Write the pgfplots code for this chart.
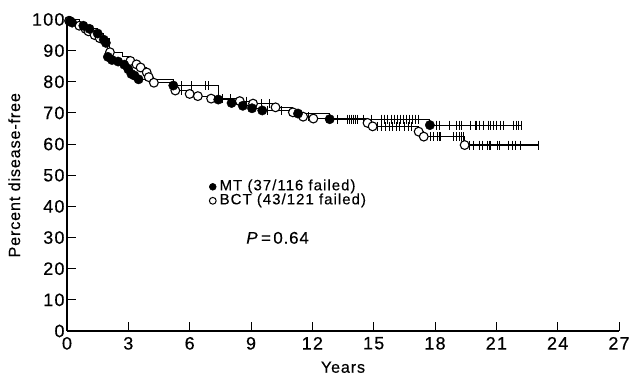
\documentclass[border=0pt]{standalone}
\usepackage{fontspec}
\setmainfont{Liberation Sans}[FakeBold=0.3]
\newfontfamily\tickfont{Liberation Sans}[LetterSpace=7, FakeBold=0.4]
\newfontfamily\labfont{Liberation Sans}[LetterSpace=5, FakeBold=0.3]
\newfontfamily\legfont{Liberation Sans}[LetterSpace=7, FakeBold=0.3]
\usepackage{pgfplots}
\pgfplotsset{compat=1.18}
\begin{document}
\begin{tikzpicture}
\path[use as bounding box] (-67bp,-45bp) rectangle (563bp,331bp);
\begin{axis}[
  scale only axis, width=552bp, height=311.5bp,
  xmin=0, xmax=27, ymin=0, ymax=100,
  axis x line=bottom, axis y line=left,
  axis line style={-, line width=1.2pt},
  tick align=inside,
  major tick length=9bp,
  tick style={black, line width=1pt},
  xtick={0,3,...,27}, ytick={0,10,...,100},
  /pgf/number format/assume math mode=true,
  ticklabel style={font=\tickfont\fontsize{18}{21}\selectfont},
  yticklabel style={xshift=1bp},
  xticklabel style={yshift=-2.5bp},
  xlabel={Years}, ylabel={Percent disease-free},
  label style={font=\labfont\fontsize{16.3}{19}\selectfont},
  xlabel style={yshift=-5bp},
  ylabel style={yshift=5bp},
  clip=false,
  legend cell align=left,
  legend image code/.code={\draw[#1] (3.4bp,0bp) circle (3.4bp);},
  legend style={draw=none, fill=none, at={(axis cs:6.93,48.6)}, anchor=north west,
    inner sep=0pt, font=\legfont\fontsize{15}{17}\selectfont, row sep=0bp,
    nodes={inner sep=0.5bp, text height=10bp, text depth=3bp},
    /tikz/every odd column/.append style={column sep=2.5bp}},
]
% legend images
\addlegendimage{draw=black, fill=black, line width=0.6pt}
\addlegendentry{MT (37/116 failed)}
\addlegendimage{draw=black, fill=white, line width=1pt}
\addlegendentry{BCT (43/121 failed)}

% BCT step line
\addplot[const plot, black, line width=1.1pt, forget plot] coordinates {
(0,100)(0.6,98)(0.9,97)(1.05,96.2)(1.35,95)(1.6,94)(2.1,89.5)(2.7,88)(3.1,86.7)(3.4,85.6)(3.6,84.6)(3.9,83)(4.0,81.5)(4.25,79.7)(5.3,77.2)(6.0,76.1)(6.4,75.4)(7.05,74.6)(8.45,73.8)(9.1,73)(10.2,71.8)(11.05,70.2)(11.55,68.8)(12.05,68.2)(14.7,66.8)(14.95,65.7)(17.2,64.0)(17.45,62.4)(19.45,59.7)(23.05,59.7)};
% MT step line
\addplot[const plot, black, line width=1.1pt, forget plot] coordinates {
(0,100)(0.25,99)(0.8,98)(1.1,97)(1.5,95.5)(1.8,93.5)(1.9,92.5)(2.0,88)(2.2,87)(2.5,86.5)(2.8,85.5)(3.0,84)(3.15,82.5)(3.3,82)(3.5,80.8)(5.2,78.8)(7.4,74.3)(8.05,73.2)(8.6,72.3)(9.05,71.5)(9.55,70.8)(11.3,69.8)(12.85,68)(17.75,66.1)(22.25,66.1)};

% censor ticks MT
\addplot[only marks, mark=|, mark size=4.5bp, line width=1pt, black, forget plot] coordinates {
(5.6,78.8)(6.1,78.8)(6.75,78.8)(6.9,78.8)(9.8,70.8)(10.5,70.8)
(13.25,68)(13.7,68)(13.8,68)(13.9,68)(14.0,68)(14.1,68)(14.2,68)(14.5,68)(14.9,68)(15.4,68)(15.55,68)(15.7,68)(15.85,68)(16.0,68)(16.15,68)(16.3,68)(16.45,68)(16.6,68)(16.75,68)(16.9,68)(17.05,68)(17.2,68)
(18.08,66.1)(18.2,66.1)(18.7,66.1)(19.06,66.1)(19.2,66.1)(19.3,66.1)(19.72,66.1)(19.97,66.1)(20.05,66.1)(20.18,66.1)(20.35,66.1)(20.6,66.1)(20.72,66.1)(20.85,66.1)(21.0,66.1)(21.2,66.1)(21.35,66.1)(21.85,66.1)(22.0,66.1)(22.1,66.1)(22.25,66.1)};
% censor ticks BCT
\addplot[only marks, mark=|, mark size=4.5bp, line width=1pt, black, forget plot] coordinates {
(5.6,77.2)(7.6,74.6)(8.0,74.6)(8.8,73.8)(9.5,73)(9.9,73)(11.8,68.8)
(15.2,65.7)(15.4,65.7)(15.6,65.7)(15.75,65.7)(15.9,65.7)(16.1,65.7)(16.25,65.7)(16.5,65.7)(16.7,65.7)(16.85,65.7)
(17.8,62.4)(17.95,62.4)(18.1,62.4)(18.2,62.4)(18.25,62.4)(18.9,62.4)(19.05,62.4)(19.2,62.4)(19.3,62.4)(19.4,62.4)
(19.7,59.7)(19.9,59.7)(20.2,59.7)(20.3,59.7)(20.55,59.7)(20.65,59.7)(20.7,59.7)(21.05,59.7)(21.15,59.7)(21.6,59.7)(21.8,59.7)(21.95,59.7)(22.2,59.7)(23.05,59.7)};

% BCT events (open)
\addplot[only marks, mark=*, mark size=4.4bp, draw=black, fill=white, line width=1.1pt, forget plot] coordinates {
(0.1,99.6)(0.6,98)(0.9,97)(1.05,96.2)(1.35,95)(1.6,94)(2.1,89.5)(3.1,86.7)(3.4,85.6)(3.6,84.6)(3.9,83)(4.0,81.5)(4.25,79.7)(5.3,77.2)(6.0,76.1)(6.4,75.4)(7.05,74.6)(8.45,73.8)(9.1,73)(10.2,71.8)(11.05,70.2)(11.55,68.8)(12.05,68.2)(14.7,66.8)(14.95,65.7)(17.2,64.0)(17.45,62.4)(19.45,59.7)};
% MT events (filled)
\addplot[only marks, mark=*, mark size=4.7bp, black, forget plot] coordinates {
(0.15,99.5)(0.25,99)(0.8,98)(1.1,97)(1.5,95.5)(1.8,93.5)(1.9,92.5)(2.0,88)(2.2,87)(2.5,86.5)(2.8,85.5)(3.0,84)(3.15,82.5)(3.3,82)(3.5,80.8)(5.2,78.8)(7.4,74.3)(8.05,73.2)(8.6,72.3)(9.05,71.5)(9.55,70.8)(11.3,69.8)(12.85,68)(17.75,66.1)};

\node[font=\labfont\fontsize{17}{20}\selectfont] at (axis cs:10.3,29.9) {\textit{P}\hspace{2.5bp}=\hspace{2.5bp}0.64};
\end{axis}
\end{tikzpicture}
\end{document}
